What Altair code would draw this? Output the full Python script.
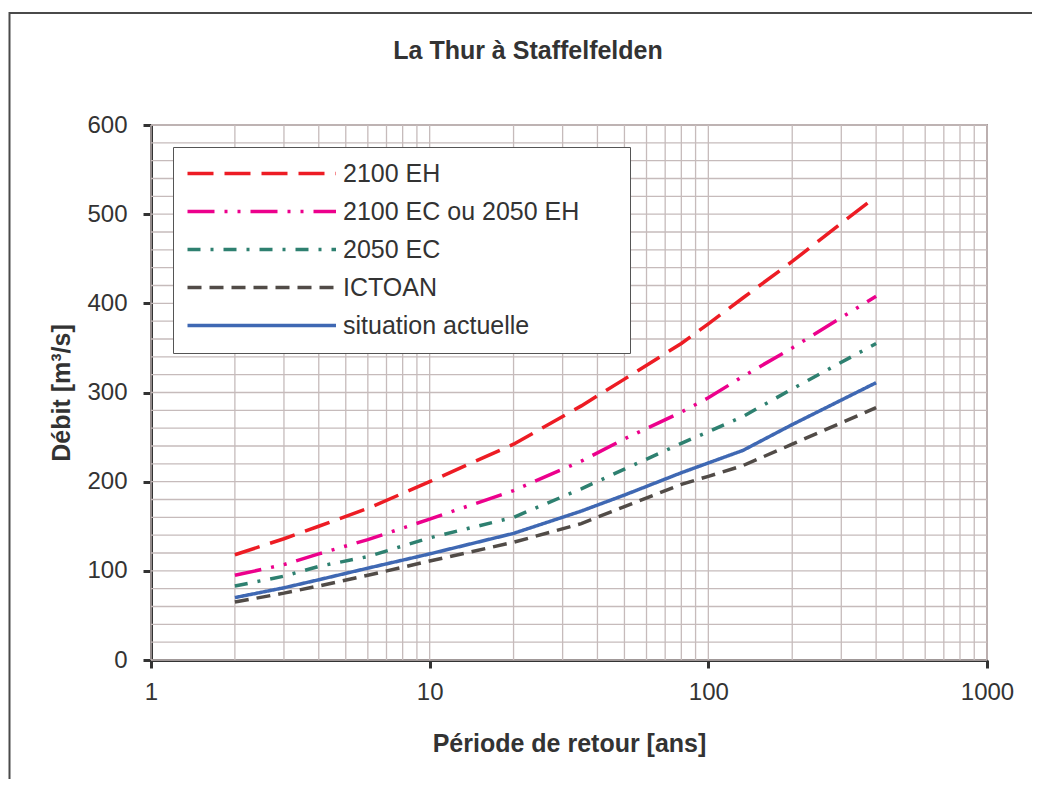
import altair as alt
import pandas as pd

# Return periods (years)
periods = [2, 3, 4, 6, 10, 20, 35, 50, 80, 100, 133, 200, 400]

# Discharge values [m3/s]
eh2100 = [118, 136, 150, 170, 200, 242, 285, 315, 355, 377, 406, 447, 520]
ec2100 = [95, 107, 119, 135, 158, 190, 223, 248, 278, 294, 318, 350, 408]
ec2050 = [83, 94, 105, 116, 137, 160, 192, 214, 243, 256, 273, 304, 355]
ictoan = [65, 75, 83, 95, 111, 132, 153, 172, 197, 206, 218, 242, 283]
actuel = [70, 81, 90, 103, 119, 142, 167, 185, 210, 221, 235, 264, 311]

names = ["2100 EH", "2100 EC ou 2050 EH", "2050 EC", "ICTOAN", "situation actuelle"]
series = [eh2100, ec2100, ec2050, ictoan, actuel]
colors = ["#ED1C24", "#EC008C", "#2E8070", "#514B47", "#3F68B3"]
dashes = [[26, 11], [27, 10, 3, 10, 3, 10], [13, 10, 3, 10], [14, 8], [1, 0]]

x_ticks = [1, 10, 100, 1000]
y_ticks = [0, 100, 200, 300, 400, 500, 600]
x_grid = [m * d for d in (1, 10, 100) for m in range(1, 10)] + [1000]
y_grid = list(range(0, 601, 20))

rows = []
for name, vals in zip(names, series):
    for p, v in zip(periods, vals):
        rows.append({"serie": name, "periode": p, "debit": v})
df = pd.DataFrame(rows)

W, H = 836, 535
PAD_L, PAD_T = 143, 117
PAD_R = 1024 - PAD_L - W
PAD_B = 771 - PAD_T - H

FS = 24
FS_T = 25

xscale = alt.Scale(type="log", domain=[1, 1000], nice=False)
yscale = alt.Scale(domain=[0, 600], nice=False, zero=True)

grid_color = "#C6BBBB"
ink = "#333333"

x_axis = alt.Axis(
    title="Période de retour [ans]",
    values=x_ticks,
    format="d",
    grid=False,
    domainColor=ink,
    domainWidth=3,
    tickColor=ink,
    tickWidth=3,
    tickSize=8,
    labelFontSize=FS,
    labelColor=ink,
    labelPadding=12,
    labelFlush=False,
    titleFontSize=FS_T,
    titleFontWeight="bold",
    titleColor=ink,
    titlePadding=27,
)

y_axis = alt.Axis(
    title="Débit [m³/s]",
    values=y_ticks,
    grid=False,
    domainColor=ink,
    domainWidth=3,
    tickColor=ink,
    tickWidth=3,
    tickSize=8,
    labelFontSize=FS,
    labelColor=ink,
    labelPadding=16,
    titleFontSize=FS_T,
    titleFontWeight="bold",
    titleColor=ink,
    titleAngle=270,
    titleX=-90,
    titleY=H / 2,
    titleAlign="center",
    titleBaseline="middle",
)

vgrid = alt.Chart(pd.DataFrame({"v": x_grid})).mark_rule(
    color=grid_color, strokeWidth=1.3
).encode(x=alt.X("v:Q", scale=xscale, axis=x_axis))

hgrid = alt.Chart(pd.DataFrame({"v": y_grid})).mark_rule(
    color=grid_color, strokeWidth=1.3
).encode(y=alt.Y("v:Q", scale=yscale, axis=y_axis))

frame = alt.Chart(pd.DataFrame({"a": [0]})).mark_rect(
    fill=None, stroke="#4A4A4A", strokeWidth=2
).encode(
    x=alt.value(-PAD_L + 1.5),
    y=alt.value(-PAD_T + 5),
    x2=alt.value(W + 200),
    y2=alt.value(H + 300),
)

longest = names[1]
legend = alt.Legend(
    title=None,
    orient="none",
    legendX=22,
    legendY=22,
    symbolType="M-1.6,0H18.2",
    symbolSize=225,
    symbolStrokeWidth=3.5,
    labelFontSize=25,
    labelColor=ink,
    labelFont="Liberation Sans",
    labelOffset=131,
    labelLimit=600,
    labelExpr=f"datum.label == '{longest}' ? datum.label + '\u2800\u2800' : datum.label",
    rowPadding=12,
    padding=14,
    strokeColor="#555555",
    fillColor="white",
    cornerRadius=0,
)

lines = alt.Chart(df).mark_line(strokeWidth=3.5, strokeCap="butt").encode(
    x=alt.X("periode:Q", scale=xscale, axis=x_axis),
    y=alt.Y("debit:Q", scale=yscale, axis=y_axis),
    color=alt.Color("serie:N", sort=names,
                    scale=alt.Scale(domain=names, range=colors), legend=legend),
    strokeDash=alt.StrokeDash("serie:N", sort=names,
                              scale=alt.Scale(domain=names, range=dashes), legend=legend),
    order=alt.Order("periode:Q"),
)

chart = alt.layer(frame, vgrid, hgrid, lines).properties(
    width=W,
    height=H,
    padding={"left": PAD_L, "top": PAD_T, "right": PAD_R, "bottom": PAD_B},
    autosize=alt.AutoSizeParams(type="none"),
    title=alt.TitleParams(
        "La Thur à Staffelfelden",
        fontSize=FS_T,
        fontWeight="bold",
        color=ink,
        font="Liberation Sans",
        anchor="middle",
        dx=-41,
        dy=52,
        offset=0,
    ),
).configure(
    font="Liberation Sans",
    background="white",
).configure_view(
    stroke="#A89C9C",
    strokeWidth=2,
)

chart.save("out.html", embed_options={"renderer": "svg", "actions": False})
